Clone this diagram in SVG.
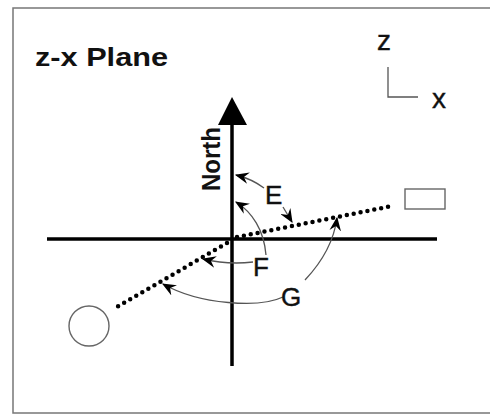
<svg xmlns="http://www.w3.org/2000/svg" width="490" height="415" viewBox="0 0 490 415">
<style>
.frame{fill:none;stroke:#777;stroke-width:1.5}
.axis{stroke:#000;stroke-width:3.5;fill:none}
.dots{stroke:#000;stroke-width:4.5;stroke-linecap:round;stroke-dasharray:0 7;fill:none}
.lead{stroke:#555;stroke-width:1.3;fill:none;marker-end:url(#ah)}
.thin{stroke:#555;stroke-width:1.3;fill:none}
.obj{fill:#fff;stroke:#666;stroke-width:1.4}
.lbl{font-family:"Liberation Sans",Arial,sans-serif;font-size:26px;fill:#111;stroke:#111;stroke-width:0.4}
.bold{font-family:"Liberation Sans",Arial,sans-serif;font-weight:bold;fill:#111}
</style>
<defs>
<marker id="ah" viewBox="0 0 12 10" refX="11" refY="5" markerWidth="14" markerHeight="12" markerUnits="userSpaceOnUse" orient="auto">
<path d="M12,5 L0,0 L4,5 L0,10 Z" fill="#000"/>
</marker>
</defs>
<rect width="490" height="415" fill="#fff"/>
<path class="frame" d="M492,8 L13,8 L13,413 L492,413"/>
<g id="title"><text class="bold" x="35" y="66" font-size="25" textLength="133" lengthAdjust="spacingAndGlyphs">z-x Plane</text></g>
<g id="axes-key">
<path class="thin" d="M388,67 L388,97 L418,97"/>
<text class="lbl" x="377" y="50" style="font-size:28px">z</text>
<text class="lbl" x="432" y="108" style="font-size:28px">x</text>
</g>
<g id="main-axes">
<line class="axis" x1="232" y1="120" x2="232" y2="366"/>
<polygon points="232,97 218,125 247,125" fill="#000"/>
<line class="axis" x1="47" y1="239" x2="437" y2="239"/>
<text class="bold" font-size="22" transform="translate(220,191) rotate(-90) scale(1,1.2)" textLength="64" lengthAdjust="spacingAndGlyphs">North</text>
</g>
<g id="target-rect"><rect class="obj" x="405" y="189" width="40" height="20"/></g>
<g id="source-circle"><circle class="obj" cx="89" cy="326" r="20"/></g>
<g id="lines">
<line class="dots" x1="237" y1="237" x2="392" y2="206"/>
<line class="dots" x1="227" y1="243" x2="117" y2="307"/>
</g>
<g id="connectors">
<path class="lead" d="M264,188 Q252,179 236,175"/>
<path class="lead" d="M283,207 L292,222"/>
<path class="lead" d="M266,255 C264,230 252,212 236,202"/>
<path class="lead" d="M253,262 Q228,265 203,259"/>
<path class="lead" d="M283,297 C260,308 200,305 163,284"/>
<path class="lead" d="M305,280 C322,262 334,240 337,218"/>
</g>
<g id="labels">
<text class="lbl" x="265" y="204">E</text>
<text class="lbl" x="253" y="276">F</text>
<text class="lbl" x="281" y="306">G</text>
</g>
</svg>
